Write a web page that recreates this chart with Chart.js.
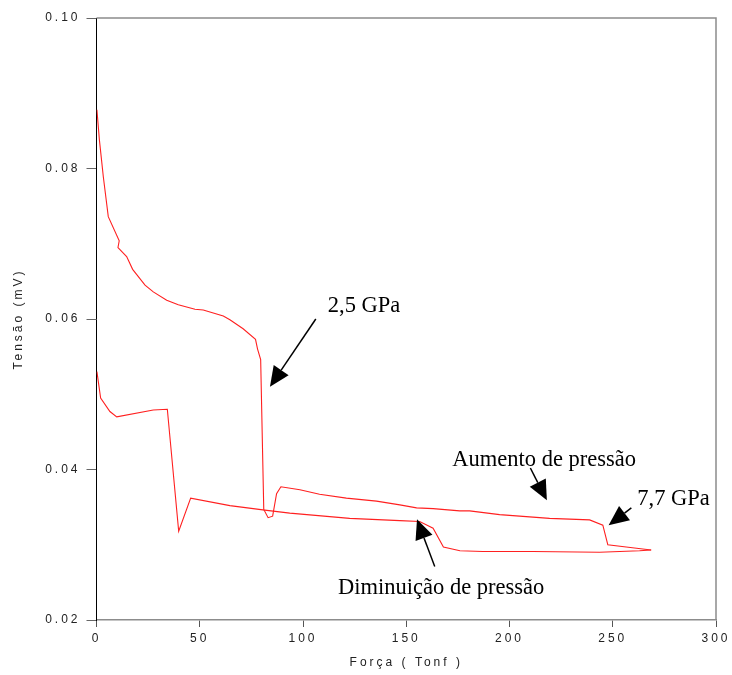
<!DOCTYPE html>
<html>
<head>
<meta charset="utf-8">
<script src="https://cdn.jsdelivr.net/npm/chart.js@4"></script>
<style>
  html, body { margin: 0; padding: 0; background: #fff; }
  canvas { display: block; }
</style>
</head>
<body>
<canvas id="chart" width="732" height="675"></canvas>
<script>
// Ramo de aumento de pressão (força em Tonf, tensão em mV)
const forcaAumento = [0.2, 1.4, 3.3, 5.7, 11, 10.4, 14.6, 17.5, 23.5, 27.5, 34, 39.6, 47.7, 51.7,
    61.4, 64.6, 71, 77, 78, 79.5, 81, 83.1, 85.3, 87.2, 89.3, 98.5, 108, 121, 135.6, 146.9,
    155, 163, 175.9, 180.7, 195.2, 219.4, 238.8, 245.2, 247.6, 256.5, 268.6];
const tensaoAumento = [0.0878, 0.0838, 0.0789, 0.0736, 0.0704, 0.0695, 0.0683, 0.0666, 0.0645, 0.0636, 0.0625, 0.0619, 0.0613, 0.0612,
    0.0604, 0.0599, 0.0587, 0.0573, 0.0560, 0.0546, 0.0347, 0.0336, 0.0338, 0.0368, 0.0377, 0.0373, 0.0367, 0.0362, 0.0358, 0.0353,
    0.0349, 0.0348, 0.0345, 0.0345, 0.0340, 0.0335, 0.0333, 0.0326, 0.0300, 0.0297, 0.0293];

// Ramo de diminuição de pressão
const forcaDiminuicao = [268.6, 263, 243.6, 211.4, 187, 176, 168, 163, 156.5, 146.9, 122.6, 93.6,
    81.5, 64.6, 45.6, 39.8, 34.3, 27.5, 9.8, 6.5, 2, 0.2];
const tensaoDiminuicao = [0.0293, 0.0292, 0.0290, 0.0291, 0.0291, 0.0292, 0.0297, 0.0322, 0.0331, 0.0332, 0.0335, 0.0342,
    0.0346, 0.0352, 0.0362, 0.0318, 0.0480, 0.0479, 0.0470, 0.0477, 0.0495, 0.0530];

const xTicks = [0, 50, 100, 150, 200, 250, 300];
const yTicks = [0.02, 0.04, 0.06, 0.08, 0.10];

// Anotações com setas (posições em unidades dos eixos)
const notas = [
    { texto: "2,5 GPa", x: 112, y: 0.0609, de: [106.2, 0.0600], para: [84, 0.0510] },
    { texto: "Aumento de pressão", x: 172.3, y: 0.0405, de: [210.1, 0.0402], para: [218.1, 0.0359] },
    { texto: "7,7 GPa", x: 261.9, y: 0.0353, de: [259, 0.0349], para: [248, 0.0326] },
    { texto: "Diminuição de pressão", x: 117, y: 0.0235, de: [163.8, 0.0271], para: [155.2, 0.0334] }
];

const pares = (xs, ys) => xs.map((x, i) => ({ x, y: ys[i] }));

function seta(ctx, x0, y0, x1, y1) {
    const ang = Math.atan2(y1 - y0, x1 - x0);
    const comp = 20, meia = 9;
    const bx = x1 - comp * Math.cos(ang), by = y1 - comp * Math.sin(ang);
    ctx.beginPath();
    ctx.moveTo(x0, y0);
    ctx.lineTo(bx, by);
    ctx.stroke();
    ctx.beginPath();
    ctx.moveTo(x1, y1);
    ctx.lineTo(bx + meia * Math.sin(ang), by - meia * Math.cos(ang));
    ctx.lineTo(bx - meia * Math.sin(ang), by + meia * Math.cos(ang));
    ctx.closePath();
    ctx.fill();
}

const moldura = {
    id: 'moldura',
    beforeDraw(chart) {
        chart.ctx.letterSpacing = '3px';
    },
    afterDraw(chart) {
        const { ctx, chartArea: a, scales: { x, y } } = chart;
        ctx.save();
        ctx.letterSpacing = '0px';
        ctx.strokeStyle = '#8c8c8c';
        ctx.lineWidth = 1.5;
        ctx.beginPath();
        ctx.moveTo(a.left, a.top);
        ctx.lineTo(a.right, a.top);
        ctx.lineTo(a.right, a.bottom);
        ctx.stroke();

        ctx.font = '22.5px "Liberation Serif", "Times New Roman", serif';
        ctx.fillStyle = '#000';
        ctx.strokeStyle = '#000';
        ctx.lineWidth = 1.5;
        ctx.textAlign = 'left';
        ctx.textBaseline = 'alphabetic';
        notas.forEach(n => {
            ctx.fillText(n.texto, x.getPixelForValue(n.x), y.getPixelForValue(n.y));
            seta(ctx, x.getPixelForValue(n.de[0]), y.getPixelForValue(n.de[1]),
                x.getPixelForValue(n.para[0]), y.getPixelForValue(n.para[1]));
        });
        ctx.restore();
    }
};

const fonteEixo = { family: '"Liberation Sans", Arial, sans-serif', size: 12 };

new Chart(document.getElementById('chart'), {
    type: 'scatter',
    data: {
        datasets: [
            { label: 'Aumento de pressão', data: pares(forcaAumento, tensaoAumento) },
            { label: 'Diminuição de pressão', data: pares(forcaDiminuicao, tensaoDiminuicao) }
        ].map(d => ({ ...d, showLine: true, borderColor: '#ff2020', borderWidth: 1.1, pointRadius: 0, tension: 0 }))
    },
    options: {
        responsive: false,
        animation: false,
        layout: { padding: { top: 18, right: 16, left: 0, bottom: 0 } },
        plugins: { legend: { display: false }, tooltip: { enabled: false } },
        scales: {
            x: {
                type: 'linear', min: 0, max: 300,
                afterBuildTicks: s => { s.ticks = xTicks.map(v => ({ value: v })); },
                afterFit: s => { s.height = 55; },
                ticks: { color: '#222', font: fonteEixo, padding: 4, maxRotation: 0, callback: v => String(v) },
                grid: { drawOnChartArea: false, drawTicks: true, tickLength: 7, color: '#555' },
                border: { color: '#8c8c8c', width: 1.5 },
                title: { display: true, text: 'Força ( Tonf )', color: '#222', font: fonteEixo, padding: { top: 0, bottom: 5 } }
            },
            y: {
                type: 'linear', min: 0.02, max: 0.10,
                afterBuildTicks: s => { s.ticks = yTicks.map(v => ({ value: v })); },
                afterFit: s => { s.width = 96.5; },
                ticks: { color: '#222', font: fonteEixo, padding: 6, callback: v => v.toFixed(2) },
                grid: { drawOnChartArea: false, drawTicks: true, tickLength: 10, color: '#666' },
                border: { color: '#000', width: 1 },
                title: { display: true, text: 'Tensão (mV)', color: '#222', font: fonteEixo, padding: { top: 11, bottom: 0 } }
            }
        }
    },
    plugins: [moldura]
});
</script>
</body>
</html>
